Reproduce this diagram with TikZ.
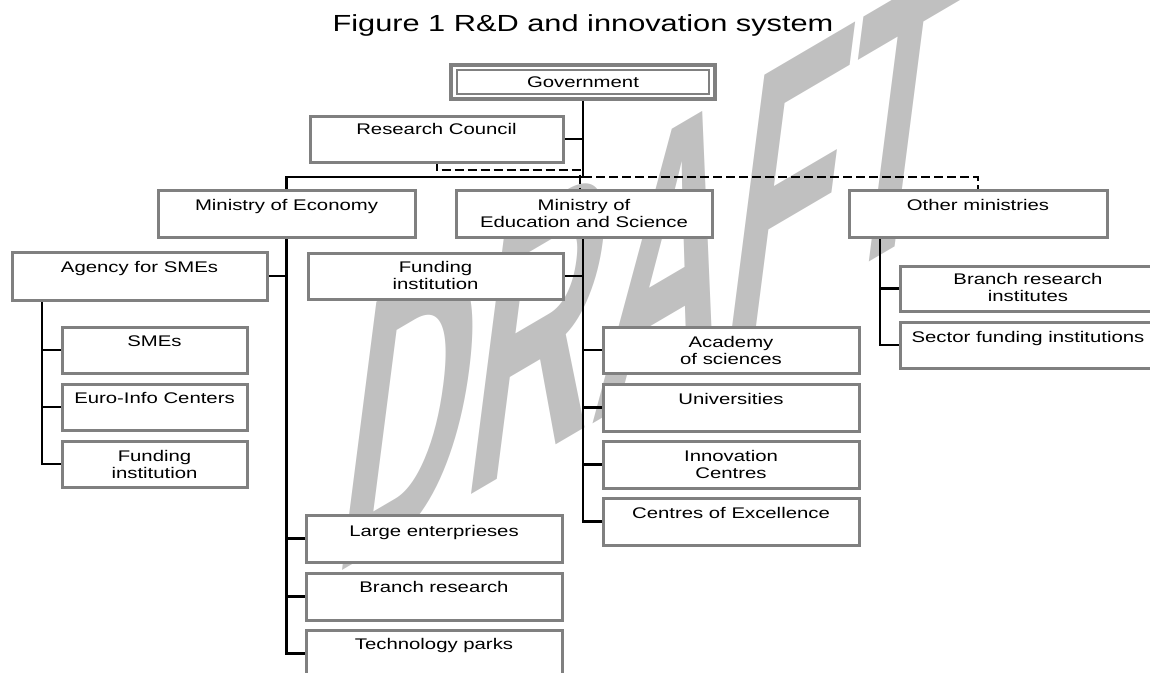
\documentclass[tikz,border=0pt]{standalone}
\usepackage{fontspec}
\setmainfont{Liberation Sans}
\usepackage{graphicx}
\usetikzlibrary{calc}
\definecolor{boxgray}{RGB}{128,128,128}
\definecolor{wmgray}{RGB}{192,192,192}
\newcommand{\sx}[1]{\scalebox{1.32}[1]{\begin{tabular}{@{}c@{}}#1\end{tabular}}}
\pgfdeclarelayer{wm}
\pgfdeclarelayer{bg}
\pgfsetlayers{wm,bg,main}
\begin{document}
\begin{tikzpicture}[x=1pt,y=-1pt,
  box/.style={draw=boxgray, line width=3pt, fill=white, inner sep=0pt, outer sep=0pt, rectangle},
  txt/.style={inner sep=0pt, outer sep=0pt, anchor=north, font=\fontsize{15.4}{16.5}\selectfont},
  conn/.style={line width=2.5pt, draw=black},
  dsh/.style={line width=2pt, draw=black, dash pattern=on 9pt off 4pt},
]
\useasboundingbox (0,0) rectangle (1150,672);

% title
\node[inner sep=0pt, anchor=base, font=\fontsize{23.3}{26}\selectfont] (title) at (583,31) {\scalebox{1.32}[1]{Figure 1 R\&D and innovation system}};

% boxes
\node[box, minimum width=264pt, minimum height=34pt, line width=4pt] (gov) at (583,82) {};
\draw[boxgray, line width=1.2pt] ([shift={(6,5)}]gov.north west) rectangle ([shift={(-6,-5)}]gov.south east);
\node[box, minimum width=253pt, minimum height=46pt] (rc) at (436.5,139) {};

\node[box, minimum width=257pt, minimum height=47pt] (moecon) at (286.5,213.5) {};
\node[box, minimum width=256pt, minimum height=47pt] (moe) at (584,213.5) {};
\node[box, minimum width=258pt, minimum height=47pt] (oth) at (978,213.5) {};

\node[box, minimum width=255pt, minimum height=48pt] (agency) at (139.5,276) {};
\node[box, minimum width=255pt, minimum height=46pt] (fundmid) at (435.5,276) {};

\node[box, minimum width=185pt, minimum height=46pt] (smes) at (154.5,350) {};
\node[box, minimum width=185pt, minimum height=46pt] (euro) at (154.5,407) {};
\node[box, minimum width=185pt, minimum height=46pt] (fundl) at (154.5,464) {};

\node[box, minimum width=256pt, minimum height=46pt] (academy) at (731,350) {};
\node[box, minimum width=256pt, minimum height=47pt] (univ) at (731,407.5) {};
\node[box, minimum width=256pt, minimum height=47pt] (innov) at (731,464.5) {};
\node[box, minimum width=256pt, minimum height=47pt] (coe) at (731,521.5) {};

\node[box, minimum width=256pt, minimum height=47pt] (large) at (434,538.5) {};
\node[box, minimum width=256pt, minimum height=47pt] (branch) at (434,596.5) {};
\node[box, minimum width=256pt, minimum height=47pt] (tech) at (434,653.5) {};

\node[box, minimum width=256pt, minimum height=45pt] (bri) at (1028,288.5) {};
\node[box, minimum width=256pt, minimum height=46pt] (sector) at (1028,345) {};

% texts
\node[txt] (t-gov) at ([yshift=-11pt]gov.north) {\sx{Government}};
\node[txt] (t-rc) at ([yshift=-7pt]rc.north) {\sx{Research Council}};
\node[txt] (t-moecon) at ([yshift=-9pt]moecon.north) {\sx{Ministry of Economy}};
\node[txt] (t-moe) at ([yshift=-9pt]moe.north) {\sx{Ministry of\\Education and Science}};
\node[txt] (t-oth) at ([yshift=-9pt]oth.north) {\sx{Other ministries}};
\node[txt] (t-agency) at ([yshift=-9pt]agency.north) {\sx{Agency for SMEs}};
\node[txt] (t-fundmid) at ([yshift=-8pt]fundmid.north) {\sx{Funding\\institution}};
\node[txt] (t-smes) at ([yshift=-8pt]smes.north) {\sx{SMEs}};
\node[txt] (t-euro) at ([yshift=-8pt]euro.north) {\sx{Euro-Info Centers}};
\node[txt] (t-fundl) at ([yshift=-9pt]fundl.north) {\sx{Funding\\institution}};
\node[txt] (t-academy) at ([yshift=-9pt]academy.north) {\sx{Academy\\of sciences}};
\node[txt] (t-univ) at ([yshift=-9pt]univ.north) {\sx{Universities}};
\node[txt] (t-innov) at ([yshift=-9pt]innov.north) {\sx{Innovation\\Centres}};
\node[txt] (t-coe) at ([yshift=-9pt]coe.north) {\sx{Centres of Excellence}};
\node[txt] (t-large) at ([yshift=-10pt]large.north) {\sx{Large enterprieses}};
\node[txt] (t-branch) at ([yshift=-8pt]branch.north) {\sx{Branch research}};
\node[txt] (t-tech) at ([yshift=-8pt]tech.north) {\sx{Technology parks}};
\node[txt] (t-bri) at ([yshift=-7pt]bri.north) {\sx{Branch research\\institutes}};
\node[txt] (t-sector) at ([yshift=-9pt]sector.north) {\sx{Sector funding institutions}};

% connectors
\begin{pgfonlayer}{bg}
\coordinate (J) at (583,177);
\draw[conn] (gov.south) -- (J) -- (J -| moecon.north) -- (moecon.north);
\draw[conn] (rc.east) -- (rc.east -| gov.south);
\draw[dsh] (rc.south) -- ++(0,8) -| ([xshift=-4pt]moe.north);
\draw[dsh] (J) -| (oth.north);
% Ministry of Economy
\draw[conn] (moecon.south) -- (moecon.south |- tech.west) -- (tech.west);
\draw[conn] (agency.east) -- (agency.east -| moecon.south);
\draw[conn] (large.west) -- (large.west -| moecon.south);
\draw[conn] (branch.west) -- (branch.west -| moecon.south);
% Agency
\coordinate (at) at ([xshift=30pt]agency.south west);
\draw[conn] (at) -- (at |- fundl.west) -- (fundl.west);
\draw[conn] (smes.west) -- (smes.west -| at);
\draw[conn] (euro.west) -- (euro.west -| at);
% Ministry of Education
\coordinate (mt) at ([xshift=-1pt]moe.south);
\draw[conn] (mt) -- (mt |- coe.west) -- (coe.west);
\draw[conn] (fundmid.east) -- (fundmid.east -| mt);
\draw[conn] (academy.west) -- (academy.west -| mt);
\draw[conn] (univ.west) -- (univ.west -| mt);
\draw[conn] (innov.west) -- (innov.west -| mt);
% Other ministries
\coordinate (ot) at ([xshift=31pt]oth.south west);
\draw[conn] (ot) -- (ot |- sector.west) -- (sector.west);
\draw[conn] (bri.west) -- (bri.west -| ot);
\end{pgfonlayer}

% watermark
\begin{pgfonlayer}{wm}
\clip (0,0) rectangle (1150,672);
\begin{scope}[shift={(330,578)}]
\node[cm={1.79,1.05,0.5,3.9,(0,0)}, transform shape, anchor=base west, inner sep=0pt, text=wmgray, font=\bfseries\fontsize{100}{100}\selectfont] (wm) at (0,0) {DRAFT};
\end{scope}
\end{pgfonlayer}
\end{tikzpicture}
\end{document}
